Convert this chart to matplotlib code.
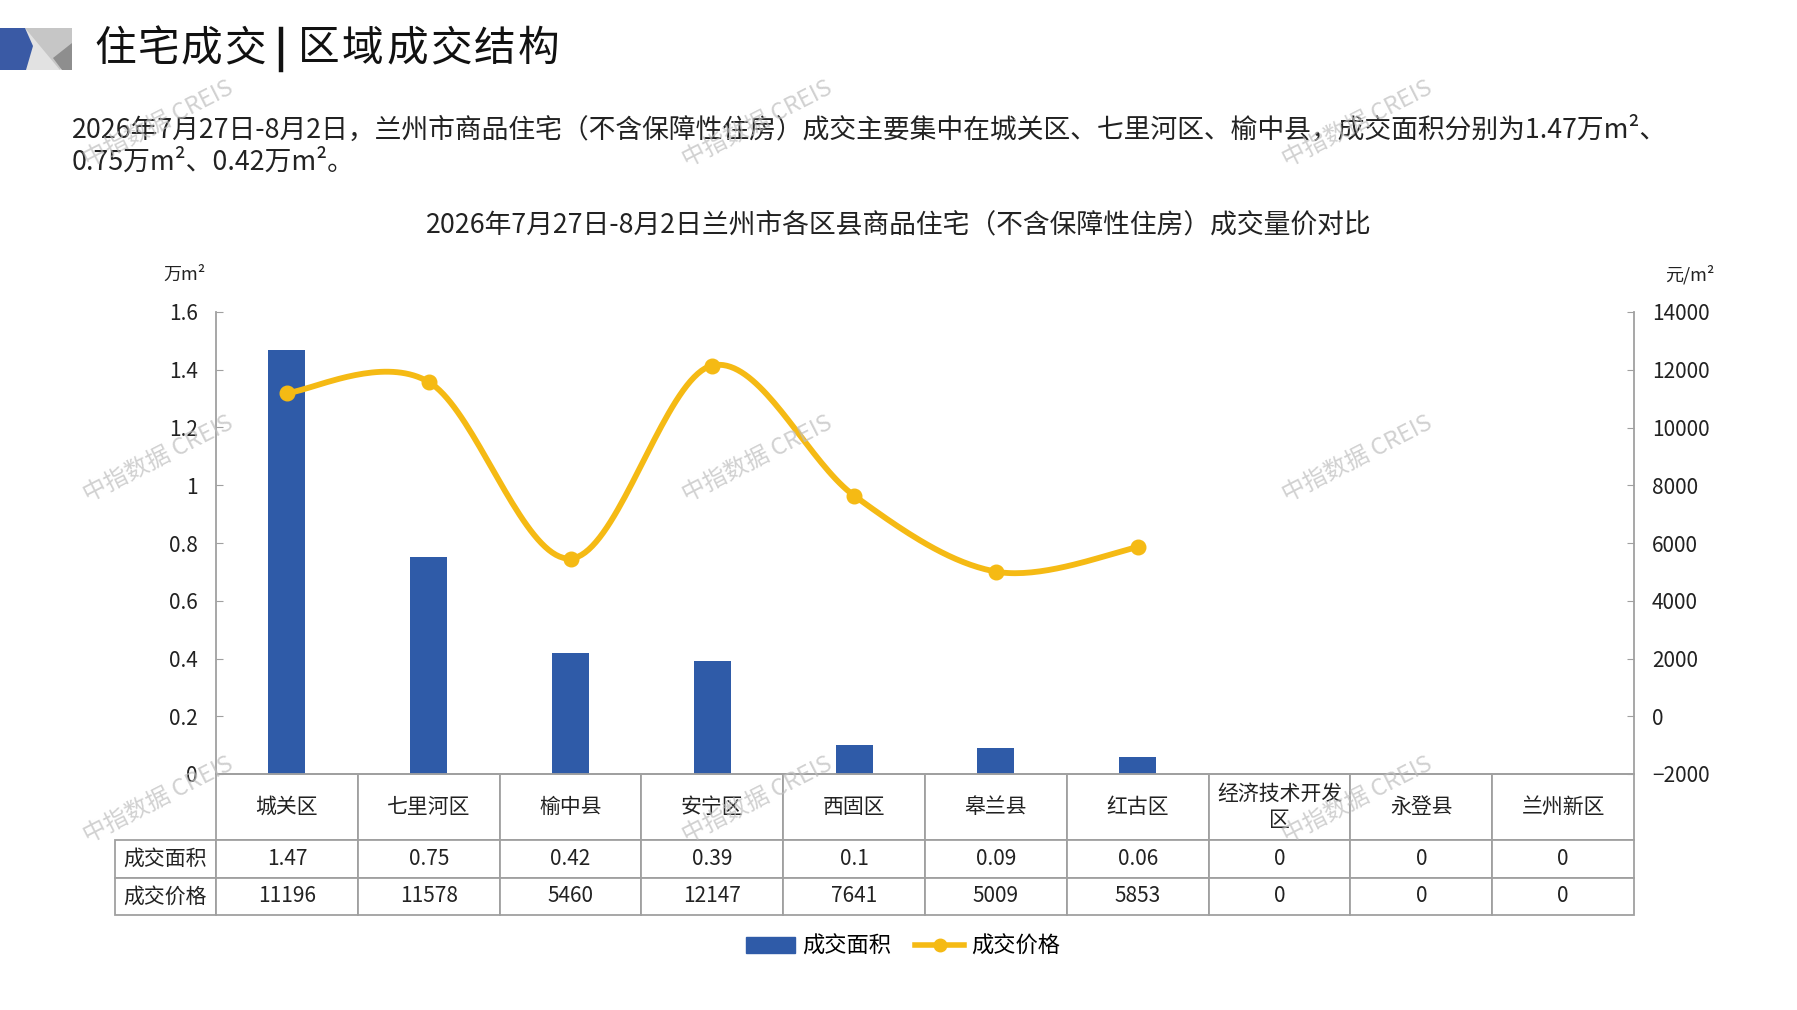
import numpy as np
import matplotlib.pyplot as plt
from matplotlib.patches import Polygon, Patch
from matplotlib.lines import Line2D
from matplotlib.table import Table
from matplotlib.ticker import FuncFormatter

plt.rcParams['font.family'] = ['Noto Sans CJK SC', 'DejaVu Sans']

# 数据
districts = ['城关区', '七里河区', '榆中县', '安宁区', '西固区', '皋兰县', '红古区',
             '经济技术开发\n区', '永登县', '兰州新区']
area = [1.47, 0.75, 0.42, 0.39, 0.1, 0.09, 0.06, 0, 0, 0]
price = [11196, 11578, 5460, 12147, 7641, 5009, 5853, 0, 0, 0]
row_names = ['成交面积', '成交价格']
n_line = 7  # 价格为0的区县不连线

BAR = '#2F5BA8'
LINE = '#F5BA14'
GRID = '#a0a0a0'
TXT = '#222222'

W, H = 1797, 1010
AX_L, AX_R, AX_T, AX_B = 216, 1634, 312, 774


def fx(px):
    return px / W


def fy(py):
    return 1 - py / H


def smooth(xs, ys, steps=40):
    # 类似 Excel 平滑线：端点重复的 Catmull-Rom 贝塞尔
    p = np.column_stack([xs, ys]).astype(float)
    p = np.vstack([p[0], p, p[-1]])
    out = []
    t = np.linspace(0, 1, steps)[:, None]
    for i in range(1, len(p) - 2):
        p0, p1, p2, p3 = p[i - 1], p[i], p[i + 1], p[i + 2]
        c1 = p1 + (p2 - p0) / 6
        c2 = p2 - (p3 - p1) / 6
        seg = ((1 - t) ** 3) * p1 + 3 * ((1 - t) ** 2) * t * c1 + 3 * (1 - t) * t ** 2 * c2 + t ** 3 * p2
        out.append(seg)
    out = np.vstack(out)
    return out[:, 0], out[:, 1]


fig = plt.figure(figsize=(W / 100, H / 100), dpi=100)

# 左上角图标
def poly(pts, color):
    fig.add_artist(Polygon([(fx(a), fy(b)) for a, b in pts], closed=True,
                           facecolor=color, edgecolor='none', transform=fig.transFigure))

poly([(25, 28), (72, 28), (72, 70), (25, 70)], '#e2e2e2')
poly([(25, 28), (72, 28), (72, 43), (60, 70)], '#c6c6c6')
poly([(72, 43), (53, 58), (62, 70), (72, 70)], '#8e8e8e')
poly([(0, 28), (25, 28), (33, 46), (26, 70), (0, 70)], '#3a5aa5')

# 标题（字距较宽，逐字排）
for i, ch in enumerate('住宅成交'):
    fig.text(fx(94 + i * 43.5), fy(49), ch, fontsize=30, va='center', ha='left', color='#111111')
fig.add_artist(Line2D([fx(281), fx(281)], [fy(29), fy(70)], color='#111111', lw=3.2,
                      transform=fig.transFigure))
for i, ch in enumerate('区域成交结构'):
    fig.text(fx(298 + i * 44), fy(49), ch, fontsize=30, va='center', ha='left', color='#111111')

line1 = ('2026年7月27日-8月2日，兰州市商品住宅（不含保障性住房）成交主要集中在城关区、七里河区、榆中县，'
         f'成交面积分别为{area[0]}万m²、')
line2 = f'{area[1]}万m²、{area[2]}万m²。'
fig.text(fx(72), fy(130), line1, fontsize=19.3, va='center', ha='left', color=TXT)
fig.text(fx(72), fy(162), line2, fontsize=19.3, va='center', ha='left', color=TXT)

fig.text(fx(899), fy(225), '2026年7月27日-8月2日兰州市各区县商品住宅（不含保障性住房）成交量价对比',
         fontsize=19.3, ha='center', va='center', color=TXT)

# 主图
ax = fig.add_axes([fx(AX_L), fy(AX_B), (AX_R - AX_L) / W, (AX_B - AX_T) / H])
ax2 = ax.twinx()
x = np.arange(len(districts))
ax.bar(x, area, width=0.26, color=BAR, zorder=2)
sx, sy = smooth(x[:n_line], price[:n_line])
ax2.plot(sx, sy, color=LINE, lw=4.2, zorder=3, solid_capstyle='round')
ax2.plot(x[:n_line], price[:n_line], 'o', color=LINE, ms=10.5, zorder=4)

ax.set_xlim(-0.5, len(districts) - 0.5)
ax.set_ylim(0, 1.6)
ax.set_yticks(np.arange(0, 1.61, 0.2))
ax.yaxis.set_major_formatter(FuncFormatter(lambda v, p: f'{v:g}'))
ax2.set_ylim(-2000, 14000)
ax2.set_yticks(np.arange(-2000, 14001, 2000))
ax.set_xticks([])

for s in ['top', 'right']:
    ax.spines[s].set_visible(False)
for s in ['top', 'left', 'bottom']:
    ax2.spines[s].set_visible(False)
for s in [ax.spines['left'], ax.spines['bottom'], ax2.spines['right']]:
    s.set_color(GRID)
    s.set_linewidth(1.3)
ax.tick_params(axis='y', direction='in', length=5, color=GRID, labelsize=15, pad=13, labelcolor=TXT)
ax2.tick_params(axis='y', direction='in', length=5, color=GRID, labelsize=15, pad=13, labelcolor=TXT)

fig.text(fx(184), fy(275), '万m²', fontsize=13, ha='center', va='center', color=TXT)
fig.text(fx(1690), fy(275), '元/m²', fontsize=13, ha='center', va='center', color=TXT)

# 数据表（单元尺寸直接用坐标轴比例，保证 bbox 不再缩放）
ax_h = AX_B - AX_T
ax_w = AX_R - AX_L
col_w = 1 / len(districts)
lab_w = (AX_L - 115) / ax_w
head_h = (840 - AX_B) / ax_h
row_h = (915 - 840) / 2 / ax_h
tbl = Table(ax, bbox=[0, -(head_h + 2 * row_h), 1, head_h + 2 * row_h])
for j, name in enumerate(districts):
    tbl.add_cell(0, j, col_w, head_h, text=name, loc='center')
rows = [[f'{v:g}' for v in area], [str(v) for v in price]]
for i, (rname, vals) in enumerate(zip(row_names, rows), start=1):
    tbl.add_cell(i, -1, lab_w, row_h, text=rname, loc='center')
    for j, v in enumerate(vals):
        tbl.add_cell(i, j, col_w, row_h, text=v, loc='center')
tbl.auto_set_font_size(False)
tbl.set_fontsize(15)
for cell in tbl.get_celld().values():
    cell.set_edgecolor(GRID)
    cell.set_linewidth(1.3)
    cell.get_text().set_color(TXT)
ax.add_table(tbl)

# 图例
handles = [Patch(color=BAR), Line2D([], [], color=LINE, lw=4, marker='o', ms=9)]
fig.legend(handles, ['成交面积', '成交价格'], loc='center', bbox_to_anchor=(fx(903), fy(946)),
           ncol=2, frameon=False, fontsize=16, handlelength=2.2, columnspacing=1.1, handletextpad=0.3)

# 水印
for wx in [158, 757, 1357]:
    for wy in [124, 459, 800]:
        fig.text(fx(wx), fy(wy), '中指数据 CREIS', fontsize=17, rotation=27, ha='center', va='center',
                 color='#bdbdbd', alpha=0.7)

fig.savefig('out.png', dpi=100)
